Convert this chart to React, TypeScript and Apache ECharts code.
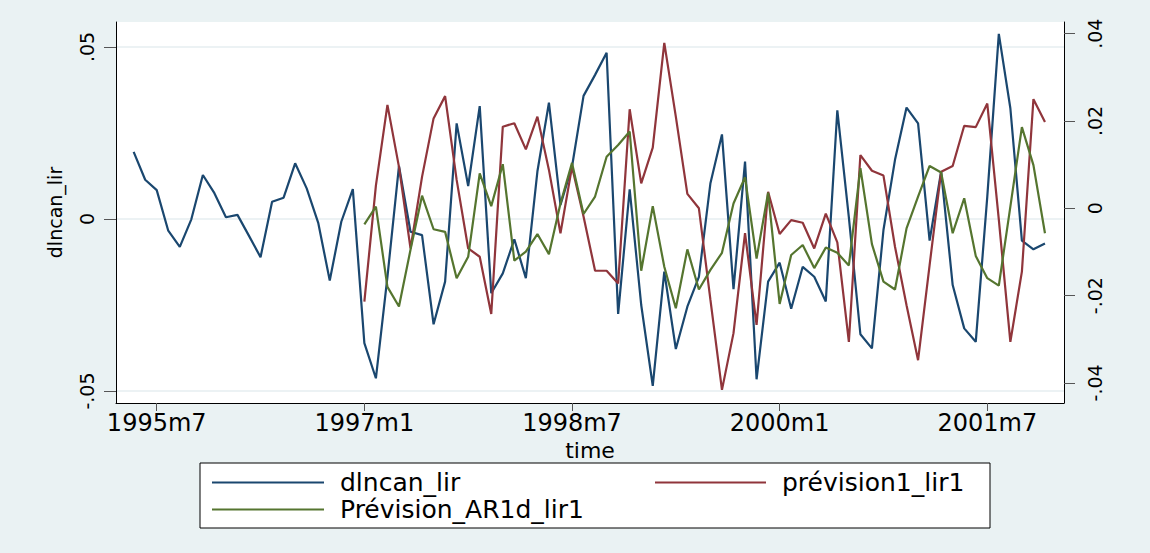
import React, { useEffect, useRef } from "react";
import * as echarts from "echarts";

// ---- data ----
const seriesNames = ["dlncan_lir", "prévision1_lir1", "Prévision_AR1d_lir1"];
const observedStart = "1995m5";
const forecastStart = "1997m1";

const dlncanLir = [
  0.0195, 0.0114, 0.0084, -0.0034, -0.0081, -0.0001, 0.0128, 0.0075, 0.0005, 0.0012,
  -0.0049, -0.0111, 0.005, 0.0062, 0.0162, 0.0089, -0.0011, -0.0179, -0.0008, 0.0087,
  -0.0361, -0.0463, -0.0168, 0.0154, -0.0037, -0.0047, -0.0306, -0.0182, 0.0278, 0.0096,
  0.0328, -0.0216, -0.0158, -0.0059, -0.0172, 0.0138, 0.0338, 0.0041, 0.0152, 0.0358,
  0.0419, 0.0483, -0.0276, 0.0086, -0.025, -0.0485, -0.0153, -0.0378, -0.0255, -0.0168,
  0.0104, 0.0246, -0.0204, 0.0167, -0.0466, -0.0182, -0.0127, -0.0261, -0.0139, -0.0168,
  -0.024, 0.0316, 0.0005, -0.0335, -0.0376, -0.0032, 0.0172, 0.0324, 0.0278, -0.0063,
  0.0138, -0.0192, -0.0318, -0.0357, 0.0065, 0.0538, 0.0322, -0.0063, -0.0088, -0.0071,
];

const prevision1Lir1 = [
  -0.0214, 0.0052, 0.0237, 0.0095, -0.0092, 0.0072, 0.0206, 0.0257, 0.0065, -0.0092,
  -0.0111, -0.0242, 0.0187, 0.0195, 0.0135, 0.021, 0.0088, -0.0057, 0.0095, -0.0019,
  -0.0143, -0.0143, -0.0172, 0.0227, 0.0057, 0.0139, 0.0379, 0.021, 0.0033, 0.0,
  -0.021, -0.0416, -0.0286, -0.0057, -0.0267, 0.0038, -0.0059, -0.0027, -0.0033, -0.0092,
  -0.0012, -0.0078, -0.0306, 0.0122, 0.0086, 0.0075, -0.0088, -0.0222, -0.0348, -0.013,
  0.0084, 0.0097, 0.0189, 0.0186, 0.024, -0.0026, -0.0306, -0.0145, 0.025, 0.0198,
];

const previsionAR1dLir1 = [
  -0.0037, 0.0004, -0.018, -0.0225, -0.0095, 0.0029, -0.0048, -0.0054, -0.016, -0.0111,
  0.008, 0.0005, 0.0101, -0.012, -0.0099, -0.0059, -0.0105, 0.0011, 0.0104, -0.0013,
  0.0027, 0.0118, 0.0145, 0.0176, -0.0143, 0.0005, -0.0134, -0.0229, -0.0094, -0.0186,
  -0.0141, -0.0102, 0.0011, 0.0071, -0.0115, 0.0036, -0.0219, -0.0107, -0.0084, -0.0137,
  -0.009, -0.0102, -0.0131, 0.0092, -0.0082, -0.0168, -0.0186, -0.0046, 0.0027, 0.0097,
  0.0082, -0.0057, 0.0023, -0.0109, -0.016, -0.0177, 0.0004, 0.0186, 0.0099, -0.0057,
];

const xTickLabels = ["1995m7", "1997m1", "1998m7", "2000m1", "2001m7"];
const leftTickValues = [-0.05, 0, 0.05];
const leftTickLabels = ["-.05", "0", ".05"];
const rightTickValues = [-0.04, -0.02, 0, 0.02, 0.04];
const rightTickLabels = ["-.04", "-.02", "0", ".02", ".04"];

const colors = ["#1a476f", "#90353b", "#55752f"];

// Stata-style monthly date number (months since 1960m1)
function monthNum(label: string): number {
  const [y, m] = label.split("m").map(Number);
  return (y - 1960) * 12 + m - 1;
}
const xTickValues = xTickLabels.map(monthNum);

function toPairs(start: string, values: number[]) {
  const s = monthNum(start);
  return values.map((v, i) => [s + i, v]);
}

function labelFor(values: number[], labels: string[]) {
  return (v: number) => {
    let best = 0;
    for (let i = 1; i < values.length; i++) {
      if (Math.abs(values[i] - v) < Math.abs(values[best] - v)) best = i;
    }
    return labels[best];
  };
}

const FONT = "DejaVu Sans";

export default function App() {
  const ref = useRef<HTMLDivElement>(null);

  useEffect(() => {
    if (!ref.current) return;
    const chart = echarts.init(ref.current, undefined, { renderer: "svg" });

    const legendBase = {
      icon: "rect",
      itemHeight: 2,
      itemGap: 0,
      padding: 0,
      selectedMode: false,
      textStyle: { fontFamily: FONT, fontSize: 25, color: "#000", padding: [0, 0, 0, 11] },
    };

    const option: any = {
      animation: false,
      backgroundColor: "#eaf2f3",
      grid: {
        left: 116,
        right: 86,
        top: 22,
        bottom: 150,
        show: true,
        backgroundColor: "#ffffff",
        borderWidth: 0,
      },
      graphic: [
        {
          type: "rect",
          shape: { x: 200, y: 463, width: 790, height: 65 },
          style: { fill: "#ffffff", stroke: "#000000", lineWidth: 1 },
          z: 0,
        },
      ],
      legend: [
        { ...legendBase, data: [seriesNames[0]], left: 212, top: 470, itemWidth: 112 },
        { ...legendBase, data: [seriesNames[1]], left: 655, top: 470, itemWidth: 111 },
        { ...legendBase, data: [seriesNames[2]], left: 212, top: 497, itemWidth: 112 },
      ],
      xAxis: {
        type: "value",
        min: 422.47,
        max: 504.65,
        name: "time",
        nameLocation: "middle",
        nameGap: 36,
        nameMoveOverlap: false,
        nameTextStyle: { fontFamily: FONT, fontSize: 22, lineHeight: 22, color: "#000" },
        axisLine: { show: true, onZero: false, lineStyle: { color: "#000", width: 1 } },
        axisTick: { show: true, length: 8, customValues: xTickValues, lineStyle: { color: "#555" } },
        axisLabel: {
          customValues: xTickValues,
          formatter: labelFor(xTickValues, xTickLabels),
          fontFamily: FONT,
          fontSize: 24,
          lineHeight: 24,
          color: "#000",
          margin: 8,
        },
        splitLine: { show: false },
      },
      yAxis: [
        {
          type: "value",
          position: "left",
          min: -0.05349,
          max: 0.05727,
          name: "dlncan_lir",
          nameLocation: "middle",
          nameGap: 52,
          nameMoveOverlap: false,
          nameTextStyle: { fontFamily: FONT, fontSize: 19, color: "#000" },
          axisLine: { show: true, onZero: false, lineStyle: { color: "#000", width: 1 } },
          axisTick: { show: true, length: 12, customValues: leftTickValues, lineStyle: { color: "#555" } },
          axisLabel: {
            customValues: leftTickValues,
            formatter: labelFor(leftTickValues, leftTickLabels),
            rotate: 90,
            margin: 20,
            fontFamily: FONT,
            fontSize: 19,
            color: "#000",
          },
          splitLine: { show: true, lineStyle: { color: "#e6eef0", width: 1.5 } },
        },
        {
          type: "value",
          position: "right",
          min: -0.0446,
          max: 0.04268,
          axisLine: { show: true, onZero: false, lineStyle: { color: "#000", width: 1 } },
          axisTick: { show: true, length: 11, customValues: rightTickValues, lineStyle: { color: "#555" } },
          axisLabel: {
            customValues: rightTickValues,
            formatter: labelFor(rightTickValues, rightTickLabels),
            rotate: 90,
            margin: 21,
            fontFamily: FONT,
            fontSize: 19,
            color: "#000",
          },
          splitLine: { show: false },
        },
      ],
      series: [
        {
          name: seriesNames[0],
          type: "line",
          yAxisIndex: 0,
          data: toPairs(observedStart, dlncanLir),
          showSymbol: false,
          symbol: "none",
          lineStyle: { color: colors[0], width: 2.2 },
          itemStyle: { color: colors[0] },
          z: 3,
        },
        {
          name: seriesNames[1],
          type: "line",
          yAxisIndex: 1,
          data: toPairs(forecastStart, prevision1Lir1),
          showSymbol: false,
          symbol: "none",
          lineStyle: { color: colors[1], width: 2.2 },
          itemStyle: { color: colors[1] },
          z: 4,
        },
        {
          name: seriesNames[2],
          type: "line",
          yAxisIndex: 1,
          data: toPairs(forecastStart, previsionAR1dLir1),
          showSymbol: false,
          symbol: "none",
          lineStyle: { color: colors[2], width: 2.2 },
          itemStyle: { color: colors[2] },
          z: 5,
        },
      ],
    };

    chart.setOption(option);
    return () => chart.dispose();
  }, []);

  return (
    <div
      ref={ref}
      style={{ position: "absolute", left: 0, top: 0, width: 1150, height: 553 }}
    />
  );
}
